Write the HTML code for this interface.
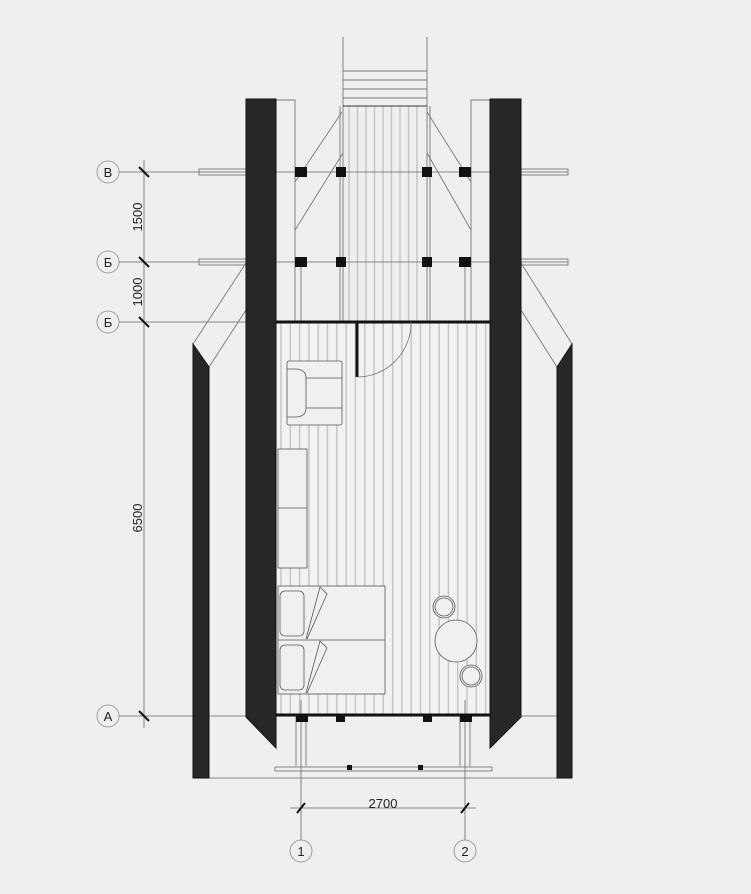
<!DOCTYPE html>
<html><head><meta charset="utf-8"><style>
html,body{margin:0;padding:0;background:#eeefee;}
svg{display:block;}
text{font-family:"Liberation Sans","DejaVu Sans",sans-serif;fill:#222;}
</style></head><body>
<svg width="751" height="894" viewBox="0 0 751 894" xmlns="http://www.w3.org/2000/svg">
<rect width="751" height="894" fill="#eeefee"/>
<rect x="276" y="322" width="214" height="394" fill="#f1f2f1"/>
<g stroke="#c2c3c2" stroke-width="1.4">
<path d="M281 322V716M290.3 322V716M299.6 322V716M308.9 322V716M318.2 322V716M327.5 322V716M336.8 322V716M346.1 322V716M355.4 322V716M364.7 322V716M374 322V716M383.3 322V716M392.6 322V716M401.9 322V716M411.2 322V716M420.5 322V716M429.8 322V716M439.1 322V716M448.4 322V716M457.7 322V716M467 322V716M476.3 322V716M485.6 322V716"/>
<path d="M349 106V322M357.5 106V322M366 106V322M374.5 106V322M383 106V322M391.5 106V322M400 106V322M408.5 106V322M417 106V322"/>
</g>
<g stroke="#666" stroke-width="0.8" fill="none">
<path d="M119 172H568M119 262H568M119 322H276M119 716H560"/>
<path d="M144 160V728"/>
<path d="M301 700V840M465 700V840M290 808H476"/>
<path d="M209 778H557"/>
</g>
<g stroke="#777" stroke-width="0.9" fill="none">
<path d="M343 37V322M427 37V322M340 106V322M430 106V322"/>
<path d="M343 71H427M343 80H427M343 89H427M343 98H427"/>
<path d="M343 106H427" stroke="#333"/>
<path d="M276 100H295V322M490 100H471V322"/>
<path d="M301 262V322M465 262V322"/>
<path d="M342 112L295 182M295 230L343 153M427 112L471 182M471 230L427 153"/>
<path d="M193 344L246 263M209 367L246 310M572 344L521 263M557 367L521 310"/>
<path d="M296 716V766M306 716V766M460 716V766M470 716V766"/>
<rect x="199" y="169" width="47" height="6"/><rect x="521" y="169" width="47" height="6"/>
<rect x="199" y="259" width="47" height="6"/><rect x="521" y="259" width="47" height="6"/>
<rect x="275" y="767" width="217" height="4"/>
</g>
<g fill="#252826" stroke="#111" stroke-width="1">
<polygon points="246,99 276,99 276,748 246,717"/>
<polygon points="490,99 521,99 521,717 490,748"/>
<polygon points="193,344 209,367 209,778 193,778"/>
<polygon points="572,344 557,367 557,778 572,778"/>
</g>
<path d="M276 322H490M276 715H490" stroke="#111" stroke-width="3"/>
<path d="M357 322V377" stroke="#111" stroke-width="3"/>
<path d="M357 377A54 54 0 0 0 411 322" stroke="#777" stroke-width="0.8" fill="none"/>
<g fill="#111">
<rect x="295" y="167" width="12" height="10"/><rect x="336" y="167" width="10" height="10"/><rect x="422" y="167" width="10" height="10"/><rect x="459" y="167" width="12" height="10"/>
<rect x="295" y="257" width="12" height="10"/><rect x="336" y="257" width="10" height="10"/><rect x="422" y="257" width="10" height="10"/><rect x="459" y="257" width="12" height="10"/>
<rect x="296" y="714" width="12" height="8"/><rect x="336" y="714" width="9" height="8"/><rect x="423" y="714" width="9" height="8"/><rect x="460" y="714" width="12" height="8"/>
<rect x="347" y="765" width="5" height="5"/><rect x="418" y="765" width="5" height="5"/>
</g>
<g stroke="#555" stroke-width="0.8" fill="#eff0ef">
<rect x="287" y="361" width="55" height="64" rx="2"/>
<path d="M287 369H297Q306 370 306 378V408Q306 416 297 417H287M306 378H342M306 408H342" fill="none"/>
<rect x="278" y="449" width="29" height="119"/>
<path d="M278 508H307" fill="none"/>
<rect x="278" y="586" width="107" height="108"/>
<path d="M278 640H385" fill="none"/>
<rect x="280" y="591" width="24" height="45" rx="5"/>
<rect x="280" y="645" width="24" height="45" rx="5"/>
<path d="M306 639L320 587L327 594L307 639M306 693L320 641L327 648L307 693" fill="none"/>
<circle cx="456" cy="641" r="21"/>
<circle cx="444" cy="607" r="11"/><circle cx="444" cy="607" r="9" fill="none"/>
<circle cx="471" cy="676" r="11"/><circle cx="471" cy="676" r="9" fill="none"/>
</g>
<g stroke="#111" stroke-width="2">
<path d="M139 167L149 177M139 257L149 267M139 317L149 327M139 711L149 721M297 813L305 803M461 813L469 803"/>
</g>
<g stroke="#888" stroke-width="0.8" fill="#eeefee">
<circle cx="108" cy="172" r="11"/><circle cx="108" cy="262" r="11"/><circle cx="108" cy="322" r="11"/><circle cx="108" cy="716" r="11"/>
<circle cx="301" cy="851" r="11"/><circle cx="465" cy="851" r="11"/>
</g>
<g font-size="13" text-anchor="middle">
<text x="108" y="177">В</text><text x="108" y="267">Б</text><text x="108" y="327">Б</text><text x="108" y="721">А</text>
<text x="301" y="856">1</text><text x="465" y="856">2</text>
<text x="383" y="808">2700</text>
<text transform="translate(142,217) rotate(-90)">1500</text>
<text transform="translate(142,292) rotate(-90)">1000</text>
<text transform="translate(142,518) rotate(-90)">6500</text>
</g>
</svg>
</body></html>
